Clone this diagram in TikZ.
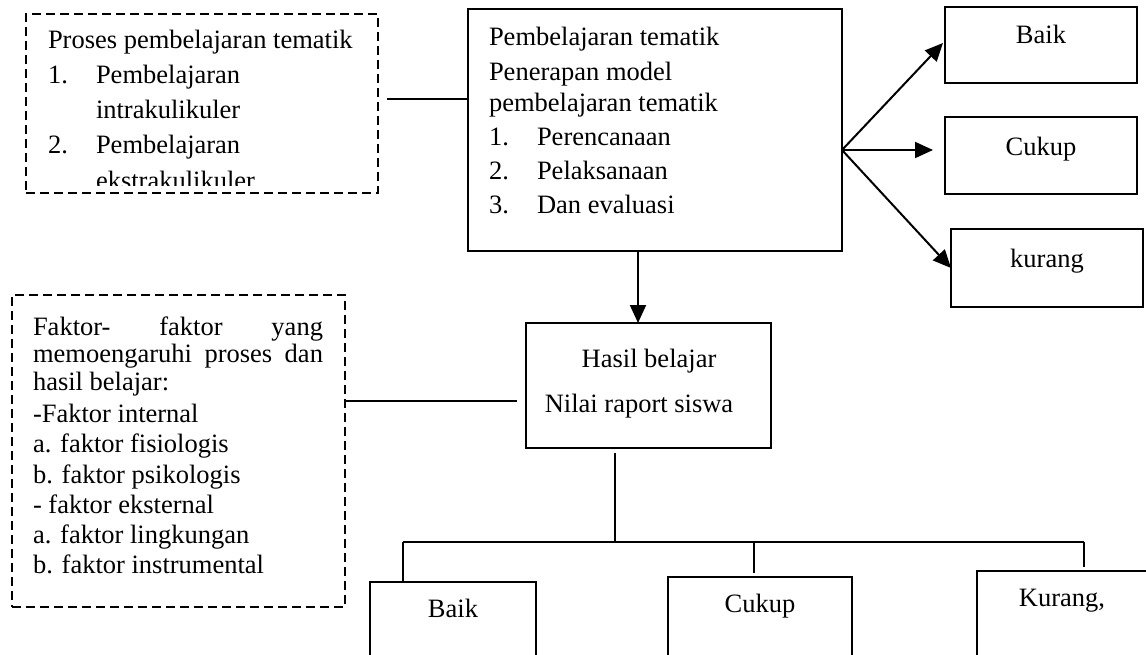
\documentclass[tikz,border=0pt]{standalone}
\usepackage{fontspec}
\setmainfont{Liberation Serif}
\usetikzlibrary{arrows.meta,calc}
\begin{document}
\begin{tikzpicture}[x=1pt,y=-1pt,
  box/.style={draw, line width=2.2pt, inner sep=0pt, outer sep=0pt},
  thinbox/.style={draw, line width=1.5pt, inner sep=0pt, outer sep=0pt},
  dbox/.style={draw, line width=2.2pt, dash pattern=on 9pt off 5pt, inner sep=0pt, outer sep=0pt},
  txt/.style={anchor=base west, inner sep=0pt, outer sep=0pt},
  ctxt/.style={anchor=base, inner sep=0pt, outer sep=0pt},
  conn/.style={line width=1.4pt},
  arr/.style={line width=2pt, -{Triangle[length=18pt,width=16pt]}},
  font=\fontsize{26.5}{30}\selectfont]
\useasboundingbox (0,0) rectangle (1146,654);
\clip (0,0) rectangle (1146,654);

% boxes
\node[dbox, minimum width=352pt, minimum height=179pt] (proses) at (202,103.5) {};
\node[box, minimum width=374pt, minimum height=242pt] (model) at (655,130) {};
\node[thinbox, minimum width=192pt, minimum height=76pt] (rbaik) at (1041,45) {};
\node[thinbox, minimum width=192pt, minimum height=77pt] (rcukup) at (1041,155.5) {};
\node[thinbox, minimum width=192pt, minimum height=78pt] (rkurang) at (1047,268) {};
\node[dbox, minimum width=333pt, minimum height=312pt] (faktor) at (178.5,451) {};
\node[box, minimum width=245pt, minimum height=125pt] (hasil) at (648.5,385.5) {};
\node[box, minimum width=166pt, minimum height=150pt] (bbaik) at (453,657) {};
\node[box, minimum width=184pt, minimum height=150pt] (bcukup) at (760,652) {};
\node[box, minimum width=170pt, minimum height=150pt] (bkurang) at (1062,646) {};

% text of box 1 (clipped)
\begin{scope}
\clip (26,14) rectangle (378,185);
\node[txt] (p0) at (48,48) {Proses pembelajaran tematik};
\node[txt] (p1n) at (48,83) {1.};
\node[txt] (p1) at (96,83) {Pembelajaran};
\node[txt] (p1b) at (96,118) {intrakulikuler};
\node[txt] (p2n) at (48,153) {2.};
\node[txt] (p2) at (96,153) {Pembelajaran};
\node[txt] (p2b) at (96,189) {ekstrakulikuler};
\end{scope}

% text of main box
\node[txt] (m0) at (489,45) {Pembelajaran tematik};
\node[txt] (m1) at (489,80) {Penerapan model};
\node[txt] (m2) at (489,111) {pembelajaran tematik};
\node[txt] (m3n) at (489,145) {1.};
\node[txt] (m3) at (537,145) {Perencanaan};
\node[txt] (m4n) at (489,179) {2.};
\node[txt] (m4) at (537,179) {Pelaksanaan};
\node[txt] (m5n) at (489,213) {3.};
\node[txt] (m5) at (537,213) {Dan evaluasi};

% right boxes text
\node[ctxt] (rt1) at (1041,43) {Baik};
\node[ctxt] (rt2) at (1041,155) {Cukup};
\node[ctxt] (rt3) at (1047,267) {kurang};

% text of box 2
\node[txt] (f0) at (33,335) {\hbox to 290pt{Faktor-\hfill faktor\hfill yang}};
\node[txt] (f1) at (33,362) {\hbox to 290pt{memoengaruhi\hfill proses\hfill dan}};
\node[txt] (f2) at (33,390) {hasil belajar:};
\node[txt] (f3) at (33,422) {-Faktor internal};
\node[txt] (f4) at (33,452) {a. faktor fisiologis};
\node[txt] (f5) at (33,483) {b. faktor psikologis};
\node[txt] (f6) at (33,513) {- faktor eksternal};
\node[txt] (f7) at (33,543) {a. faktor lingkungan};
\node[txt] (f8) at (33,573) {b. faktor instrumental};

% hasil text
\node[ctxt] (h0) at (649,367) {Hasil belajar};
\node[ctxt] (h1) at (639,412) {Nilai raport siswa};

% bottom texts
\node[ctxt] (bt1) at (453,617) {Baik};
\node[ctxt] (bt2) at (760,612) {Cukup};
\node[ctxt] (bt3) at (1062,606) {Kurang,};

% connectors
\coordinate (c1) at (387,99);
\draw[conn] (c1) -- (c1 -| model.west);
\coordinate (c2) at (517,401);
\draw[conn] (c2 -| faktor.east) -- (c2);
\coordinate (a1) at (638,0);
\draw[arr] (model.south -| a1) -- (hasil.north -| a1);

\coordinate (o) at (model.east |- 0,150);
\draw[arr] (o) -- ($(rbaik.west)+(-2,-2)$);
\draw[arr] (o) -- ($(rcukup.west)+(-12,-5.5)$);
\draw[arr] (o) -- (rkurang.west);

% tree
\coordinate (t0) at (615,453);
\coordinate (t1) at (615,542);
\coordinate (tl) at (403,542);
\coordinate (tm) at (754,542);
\coordinate (tr) at (1084,542);
\draw[conn] (t0) -- (t1);
\draw[conn] (tl) -- (tr);
\draw[conn] (tl) -- ($(bbaik.north -| tl)+(0,-1)$);
\draw[conn] (tm) -- ($(bcukup.north -| tm)+(0,-4)$);
\draw[conn] (tr) -- ($(bkurang.north -| tr)+(0,-4)$);
\end{tikzpicture}
\end{document}
